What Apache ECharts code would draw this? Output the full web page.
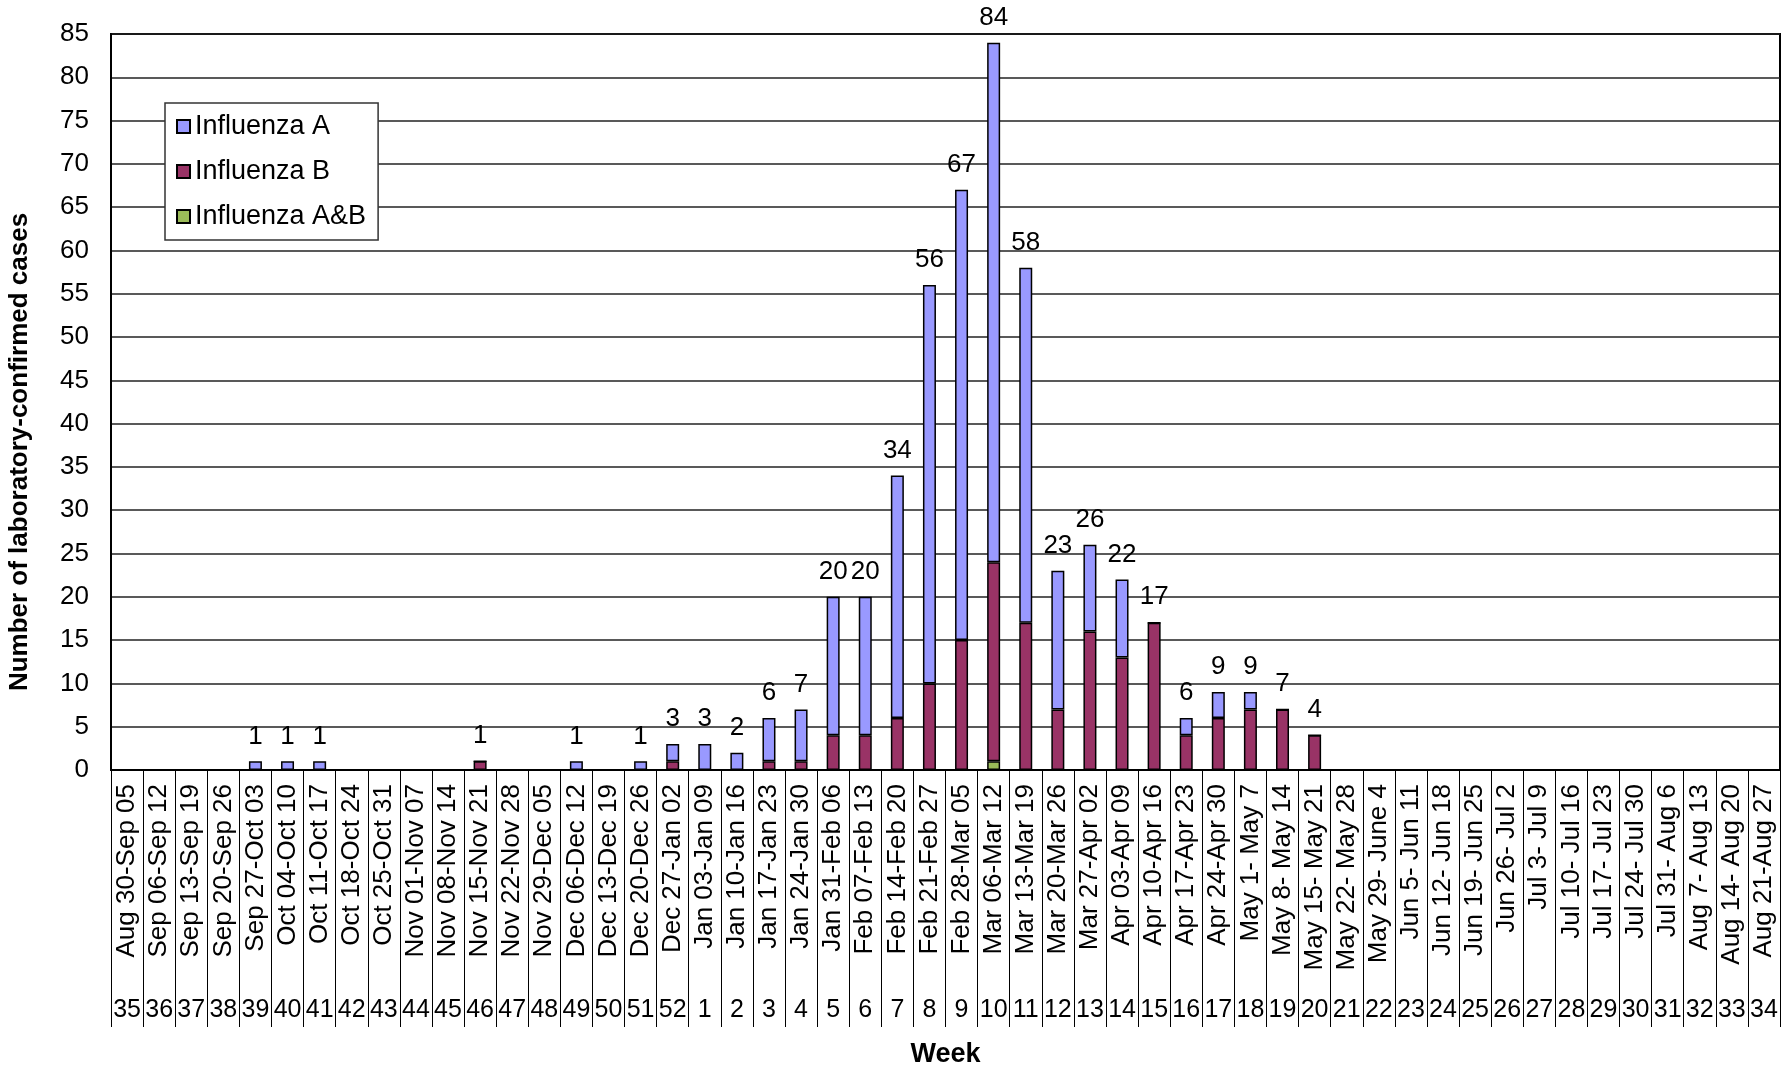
<!DOCTYPE html>
<html>
<head>
<meta charset="utf-8">
<script src="https://cdn.jsdelivr.net/npm/echarts@6/dist/echarts.min.js"></script>
<style>
html,body{margin:0;padding:0;background:#fff;}
#chart{width:1789px;height:1068px;}
</style>
</head>
<body>
<div id="chart"></div>
<script>
var categories = [
  'Aug 30-Sep 05','Sep 06-Sep 12','Sep 13-Sep 19','Sep 20-Sep 26','Sep 27-Oct 03','Oct 04-Oct 10',
  'Oct 11-Oct 17','Oct 18-Oct 24','Oct 25-Oct 31','Nov 01-Nov 07','Nov 08-Nov 14','Nov 15-Nov 21',
  'Nov 22-Nov 28','Nov 29-Dec 05','Dec 06-Dec 12','Dec 13-Dec 19','Dec 20-Dec 26','Dec 27-Jan 02',
  'Jan 03-Jan 09','Jan 10-Jan 16','Jan 17-Jan 23','Jan 24-Jan 30','Jan 31-Feb 06','Feb 07-Feb 13',
  'Feb 14-Feb 20','Feb 21-Feb 27','Feb 28-Mar 05','Mar 06-Mar 12','Mar 13-Mar 19','Mar 20-Mar 26',
  'Mar 27-Apr 02','Apr 03-Apr 09','Apr 10-Apr 16','Apr 17-Apr 23','Apr 24-Apr 30','May 1- May 7',
  'May 8- May 14','May 15- May 21','May 22- May 28','May 29- June 4','Jun 5- Jun 11','Jun 12- Jun 18',
  'Jun 19- Jun 25','Jun 26- Jul 2','Jul 3- Jul 9','Jul 10- Jul 16','Jul 17- Jul 23','Jul 24- Jul 30',
  'Jul 31- Aug 6','Aug 7- Aug 13','Aug 14- Aug 20','Aug 21-Aug 27'
];
var weeks = ['35','36','37','38','39','40','41','42','43','44','45','46','47','48','49','50','51','52',
  '1','2','3','4','5','6','7','8','9','10','11','12','13','14','15','16','17','18','19','20',
  '21','22','23','24','25','26','27','28','29','30','31','32','33','34'];

var influenzaA = [0,0,0,0,1,1,1,0,0,0,0,0,0,0,1,0,1,2,
  3,2,5,6,16,16,28,46,52,60,41,16,10,9,0,2,3,2,0,0,
  0,0,0,0,0,0,0,0,0,0,0,0,0,0];
var influenzaB = [0,0,0,0,0,0,0,0,0,0,0,1,0,0,0,0,0,1,
  0,0,1,1,4,4,6,10,15,23,17,7,16,13,17,4,6,7,7,4,
  0,0,0,0,0,0,0,0,0,0,0,0,0,0];
var influenzaAB = [0,0,0,0,0,0,0,0,0,0,0,0,0,0,0,0,0,0,
  0,0,0,0,0,0,0,0,0,1,0,0,0,0,0,0,0,0,0,0,
  0,0,0,0,0,0,0,0,0,0,0,0,0,0];

var totals = categories.map(function(_, i){ return influenzaA[i] + influenzaB[i] + influenzaAB[i]; });

var FONT = 'Liberation Sans, Arial, sans-serif';
var chart = echarts.init(document.getElementById('chart'), null, {renderer:'canvas'});
var barStyle = function(c){ return {color:c, borderColor:'#000', borderWidth:1.5}; };

chart.setOption({
  animation:false,
  backgroundColor:'#fff',
  textStyle:{fontFamily:FONT, color:'#000'},
  grid:{left:111, right:9, top:34, bottom:298, show:true, borderColor:'#000', borderWidth:2,
    containLabel:false, outerBoundsMode:'none'},
  legend:{
    data:['Influenza A','Influenza B','Influenza A&B'],
    orient:'vertical', left:165, top:103, icon:'rect',
    padding:[10,12,10,11], itemGap:18,
    itemWidth:13, itemHeight:13,
    backgroundColor:'#fff', borderColor:'#333', borderWidth:1.5,
    textStyle:{fontSize:27, fontFamily:FONT, color:'#000'}
  },
  xAxis:[{
    type:'category', data:categories, boundaryGap:true,
    axisLine:{lineStyle:{color:'#000', width:2}},
    axisTick:{show:true, length:257, interval:0, lineStyle:{color:'#000', width:1}},
    axisLabel:{interval:0, rotate:90, margin:14, fontSize:26, fontFamily:FONT, color:'#000'}
  },{
    type:'category', data:weeks, position:'bottom', boundaryGap:true,
    axisLine:{show:false}, axisTick:{show:false},
    axisLabel:{interval:0, margin:228, fontSize:25, fontFamily:FONT, color:'#000'},
    name:'Week', nameLocation:'middle', nameGap:271,
    nameTextStyle:{fontSize:27, fontWeight:'bold', fontFamily:FONT, color:'#000'}
  }],
  yAxis:{
    type:'value', min:0, max:85, interval:5,
    axisLine:{show:true, lineStyle:{color:'#000', width:2}},
    axisTick:{show:false},
    splitLine:{show:true, lineStyle:{color:'#222', width:1.5}},
    axisLabel:{fontSize:26, margin:22, fontFamily:FONT, color:'#000'}
  },
  graphic:[{
    type:'text', x:20, y:452, rotation:Math.PI/2,
    style:{text:'Number of laboratory-confirmed cases', fontSize:26, fontWeight:'bold', fontFamily:FONT,
      fill:'#000', align:'center', verticalAlign:'middle'}
  }],
  series:[
    {name:'Influenza A&B', type:'bar', stack:'flu', barWidth:13, data:influenzaAB, itemStyle:barStyle('#9BBB59')},
    {name:'Influenza B', type:'bar', stack:'flu', barWidth:13, data:influenzaB, itemStyle:barStyle('#993366')},
    {name:'Influenza A', type:'bar', stack:'flu', barWidth:13, data:influenzaA, itemStyle:barStyle('#9999FF'),
      label:{show:true, position:'top', distance:12, fontSize:26, fontFamily:FONT, color:'#000',
        formatter:function(p){ var t = totals[p.dataIndex]; return t ? String(t) : ''; }}}
  ]
});
</script>
</body>
</html>
